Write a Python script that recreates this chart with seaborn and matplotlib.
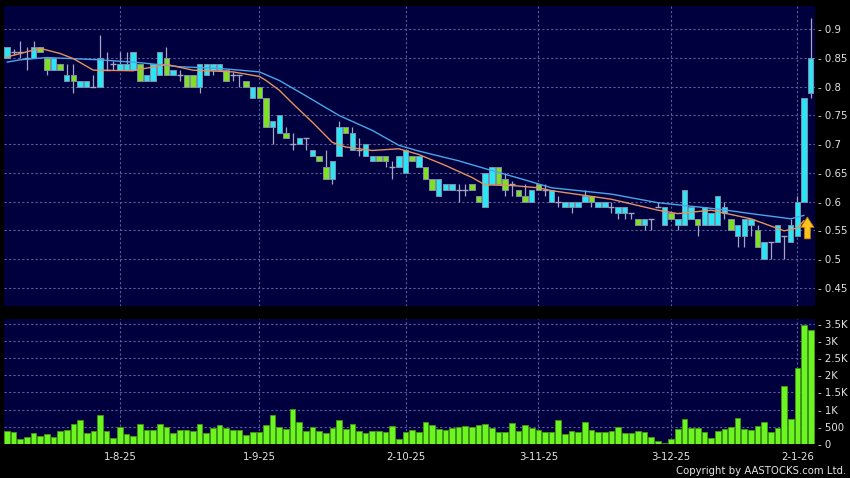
import numpy as np
import pandas as pd
import seaborn as sns
import matplotlib.pyplot as plt
from matplotlib.patches import FancyArrow

# daily candles, oldest first (one per trading day)
opens = [.85, .86, .86, .85, .85, .87, .85, .83, .84, .81,
         .82, .80, .80, .80, .80, .83, .84, .83, .83, .83,
         .84, .81, .81, .82, .85, .82, .82, .82, .82, .80,
         .82, .83, .83, .83, .82, .82, .81, .78, .80, .78,
         .73, .72, .72, .70, .70, .71, .68, .68, .66, .64,
         .68, .73, .69, .69, .68, .67, .68, .68, .66, .66,
         .65, .68, .66, .66, .64, .61, .62, .62, .62, .62,
         .63, .61, .59, .63, .66, .64, .63, .62, .61, .60,
         .63, .62, .60, .60, .59, .59, .59, .60, .61, .59,
         .59, .59, .58, .58, .58, .57, .56, .57, .59, .56,
         .58, .56, .56, .57, .57, .56, .56, .56, .58, .57,
         .54, .54, .56, .55, .50, .53, .53, .54, .53, .54,
         .60, .79]
highs = [.87, .865, .88, .87, .88, .87, .85, .85, .84, .84,
         .84, .81, .81, .82, .89, .86, .845, .86, .86, .86,
         .84, .82, .84, .86, .87, .83, .83, .82, .82, .84,
         .84, .84, .84, .83, .825, .82, .81, .80, .80, .78,
         .74, .75, .73, .72, .71, .71, .69, .68, .69, .67,
         .74, .73, .73, .71, .70, .68, .68, .68, .67, .68,
         .69, .68, .68, .66, .64, .64, .63, .63, .63, .63,
         .63, .61, .65, .66, .66, .65, .635, .62, .63, .62,
         .63, .63, .62, .61, .60, .60, .60, .62, .61, .60,
         .60, .60, .59, .59, .58, .57, .57, .57, .60, .59,
         .58, .57, .62, .59, .57, .59, .58, .61, .60, .57,
         .56, .57, .57, .56, .53, .53, .56, .54, .57, .61,
         .78, .92]
lows = [.85, .855, .85, .83, .85, .86, .82, .83, .83, .81,
        .79, .80, .80, .80, .80, .83, .83, .83, .83, .83,
        .81, .81, .81, .82, .82, .82, .81, .80, .80, .79,
        .82, .82, .83, .81, .81, .80, .80, .78, .78, .73,
        .70, .72, .71, .69, .70, .69, .68, .67, .64, .63,
        .68, .72, .69, .68, .68, .67, .67, .66, .64, .66,
        .65, .67, .66, .64, .62, .61, .62, .62, .60, .61,
        .62, .60, .59, .63, .63, .61, .61, .61, .60, .60,
        .62, .61, .60, .59, .59, .58, .59, .60, .59, .59,
        .59, .58, .57, .57, .57, .56, .55, .55, .59, .56,
        .57, .55, .56, .57, .54, .56, .56, .56, .57, .55,
        .52, .52, .54, .52, .50, .50, .53, .50, .53, .54,
        .60, .78]
closes = [.87, .86, .86, .85, .87, .86, .83, .85, .83, .82,
          .81, .81, .81, .80, .85, .83, .84, .84, .84, .86,
          .81, .82, .84, .86, .82, .83, .82, .80, .80, .84,
          .84, .84, .84, .81, .82, .82, .80, .80, .78, .73,
          .74, .75, .71, .70, .71, .71, .69, .67, .64, .67,
          .73, .72, .72, .69, .70, .68, .67, .67, .66, .68,
          .69, .67, .68, .64, .62, .64, .63, .63, .62, .62,
          .62, .60, .65, .66, .63, .62, .63, .61, .60, .62,
          .62, .62, .62, .60, .60, .60, .60, .61, .60, .60,
          .60, .59, .59, .59, .58, .56, .57, .57, .59, .59,
          .57, .57, .62, .59, .56, .59, .58, .61, .59, .55,
          .56, .57, .57, .52, .53, .53, .56, .54, .56, .60,
          .78, .85]
volumes = [370, 350, 127, 205, 320, 234, 283, 185, 360, 410,
           565, 680, 300, 370, 830, 380, 175, 490, 283, 215,
           585, 390, 400, 575, 497, 300, 400, 400, 360, 565,
           300, 450, 555, 460, 410, 390, 245, 330, 350, 555,
           850, 480, 420, 1020, 635, 360, 500, 380, 310, 450,
           700, 420, 575, 370, 310, 380, 370, 340, 505, 145,
           350, 390, 330, 635, 548, 420, 400, 450, 500, 520,
           480, 538, 567, 450, 352, 352, 616, 381, 538, 460,
           400, 332, 332, 694, 293, 372, 332, 636, 411, 342,
           342, 362, 499, 323, 323, 372, 352, 205, 78, 5,
           137, 420, 733, 460, 460, 352, 176, 362, 430, 499,
           743, 420, 391, 528, 636, 342, 470, 1682, 724, 2220,
           3480, 3325]

# moving averages at a few candles
ma_short_idx = [0, 4, 5, 8, 10, 13, 19, 24, 28, 34, 38, 39, 41, 43, 46, 49, 51,
                55, 59, 62, 66, 70, 72, 76, 80, 82, 91, 98, 101, 106, 112, 117, 119, 120]
ma_short_val = [.852, .864, .867, .858, .849, .829, .828, .839, .829, .826, .818, .811,
                .794, .771, .738, .703, .695, .689, .692, .682, .663, .642, .629, .628,
                .624, .619, .604, .585, .579, .585, .570, .549, .554, .567]
ma_long_idx = [0, 2, 6, 14, 20, 26, 32, 38, 41, 44, 50, 55, 59, 62, 68, 73, 77,
               82, 91, 98, 107, 112, 118, 120]
ma_long_val = [.843, .847, .851, .847, .842, .835, .832, .826, .811, .791, .750, .724,
               .698, .688, .671, .654, .641, .624, .613, .598, .587, .579, .570, .576]

date_idx = [17, 38, 60, 80, 100, 119]
date_labels = ['1-8-25', '1-9-25', '2-10-25', '3-11-25', '3-12-25', '2-1-26']
price_ticks = [0.45, 0.5, 0.55, 0.6, 0.65, 0.7, 0.75, 0.8, 0.85, 0.9]
price_tick_labels = ['0.45', '0.5', '0.55', '0.6', '0.65', '0.7', '0.75', '0.8', '0.85', '0.9']
vol_ticks = [0, 500, 1000, 1500, 2000, 2500, 3000, 3500]
vol_tick_labels = ['0', '500', '1K', '1.5K', '2K', '2.5K', '3K', '3.5K']

df = pd.DataFrame({'open': opens, 'high': highs, 'low': lows,
                   'close': closes, 'volume': volumes})
df['idx'] = np.arange(len(df))

sns.set_style('dark')
plt.rcParams['font.family'] = ['DejaVu Sans']

bg = '#00003f'
grid_c = '#5c5c98'
txt_c = '#e4e4e4'
up_c = '#28e6f6'
dn_c = '#7ee021'
wick_c = '#a4a4c4'

fig = plt.figure(figsize=(8.5, 4.78), dpi=100, facecolor='black')
ax = fig.add_axes([4 / 850, 1 - 306 / 478, 811 / 850, 300 / 478])
axv = fig.add_axes([4 / 850, 1 - 444 / 478, 811 / 850, 125 / 478])

# --- price panel
ax.set_facecolor(bg)
ax.vlines(df['idx'], df['low'], df['high'], color=wick_c, lw=0.9, zorder=2)
up = df[df['close'] > df['open']]
dn = df[df['close'] < df['open']]
flat = df[df['close'] == df['open']]
ax.bar(up['idx'], up['close'] - up['open'], bottom=up['open'], width=0.82,
       color=up_c, edgecolor='#7f8fa8', linewidth=0.7, zorder=3)
ax.bar(dn['idx'], dn['open'] - dn['close'], bottom=dn['close'], width=0.82,
       color=dn_c, edgecolor='#7f8fa8', linewidth=0.7, zorder=3)
ax.hlines(flat['open'], flat['idx'] - 0.45, flat['idx'] + 0.45, color=wick_c, lw=1, zorder=3)

sns.lineplot(x=ma_long_idx, y=ma_long_val, ax=ax, color='#49a6ea', lw=1, zorder=4)
sns.lineplot(x=ma_short_idx, y=ma_short_val, ax=ax, color='#e4915e', lw=1, zorder=4)

ax.add_patch(FancyArrow(120.5, 0.535, 0, 0.020, width=0.9, head_width=2.0,
                        head_length=0.018, length_includes_head=False,
                        facecolor='#ffc21c', edgecolor='#b07a10', lw=0.6, zorder=5))

ax.set_xlim(-0.45, 121.65)
ax.set_ylim(0.418, 0.9408)
ax.set_yticks(price_ticks)
ax.set_yticklabels(['- ' + s for s in price_tick_labels])
ax.set_xticks(date_idx)
ax.set_xticklabels([])

# --- volume panel
axv.set_facecolor(bg)
sns.barplot(data=df, x='idx', y='volume', native_scale=True, width=0.85,
            color='#6cf520', saturation=1, errorbar=None,
            edgecolor='#3f9a12', linewidth=0.6, ax=axv, zorder=3)
axv.set_xlim(-0.45, 121.65)
axv.set_ylim(-10, 3655)
axv.set_yticks(vol_ticks)
axv.set_yticklabels(['- ' + s for s in vol_tick_labels])
axv.set_xticks(date_idx)
axv.set_xticklabels(date_labels)
axv.set_xlabel('')
axv.set_ylabel('')

for a in (ax, axv):
    a.grid(True, color=grid_c, linestyle=(0, (2, 2)), lw=0.8)
    a.set_axisbelow(True)
    for s in a.spines.values():
        s.set_visible(False)
    a.yaxis.tick_right()
    a.tick_params(axis='y', length=0, pad=2, labelsize=7.3, labelcolor=txt_c)
    a.tick_params(axis='x', length=0, labelsize=7.3, labelcolor=txt_c)
    a.set_ylabel('')

axv.tick_params(axis='x', length=3.5, color='#909090', pad=2.5, direction='out')

fig.text(0.995, 0.004, 'Copyright by AASTOCKS.com Ltd.', ha='right', va='bottom',
         color=txt_c, fontsize=7.3)

fig.savefig('out.png', dpi=100, facecolor='black')
